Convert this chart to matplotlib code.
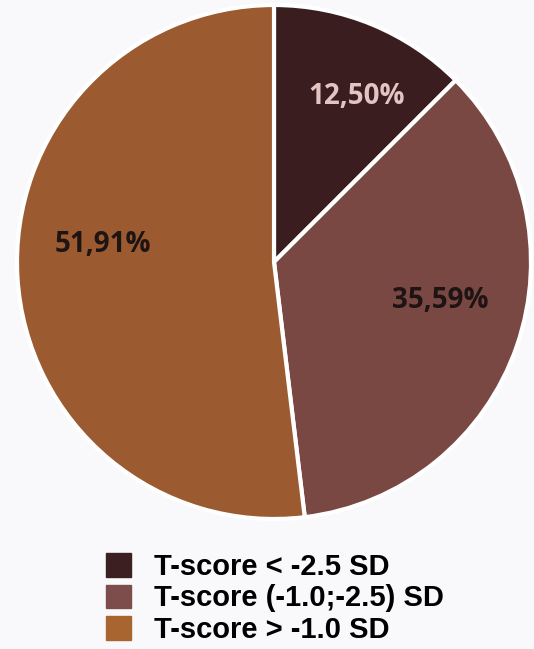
import matplotlib
matplotlib.use("Agg")
import matplotlib.pyplot as plt
from matplotlib.patches import Patch

categories = ["T-score < -2.5 SD", "T-score (-1.0;-2.5) SD", "T-score > -1.0 SD"]
values = [12.50, 35.59, 51.91]
value_labels = ["12,50%", "35,59%", "51,91%"]
colors = ["#3a1d1e", "#7a4843", "#9b5a2f"]
legend_colors = ["#3c1f21", "#7d4d4b", "#a8652f"]
label_colors = ["#e3c4c2", "#1e1414", "#1e1414"]

W, H = 534, 649
fig = plt.figure(figsize=(W / 100, H / 100), dpi=100)
fig.patch.set_facecolor("#f9f9fb")
ax = fig.add_axes([0, 0, 1, 1])

cx, cy, r = 274, 262, 257
# y axis is inverted below: start at data angle -90 (visual top), counterclock in data = clockwise on screen
wedges, texts = ax.pie(values, colors=colors, startangle=-90, counterclock=True,
                       center=(cx, cy), radius=r, frame=True,
                       wedgeprops=dict(edgecolor="white", linewidth=3))
for w in wedges:
    w.set_clip_on(False)
ax.set_xlim(0, W)
ax.set_ylim(H, 0)
ax.set_aspect("equal")
ax.axis("off")

label_pos = [(357, 97), (440, 300), (103, 245)]
for (x, y), t, c in zip(label_pos, value_labels, label_colors):
    ax.text(x, y, t, ha="center", va="center", fontsize=20, color=c,
            family="Open Sans", fontweight="bold")

handles = [Patch(facecolor=c, edgecolor=c) for c in legend_colors]
leg = fig.legend(handles, categories, loc="upper left",
                 bbox_to_anchor=(106 / W, 1 - 553 / H), frameon=False,
                 prop=dict(family="Liberation Sans", weight="bold", size=21),
                 handlelength=0.85, handleheight=0.85, handletextpad=0.8,
                 labelspacing=0.12, borderpad=0, borderaxespad=0)

fig.savefig("out.png", dpi=100, facecolor=fig.get_facecolor())
